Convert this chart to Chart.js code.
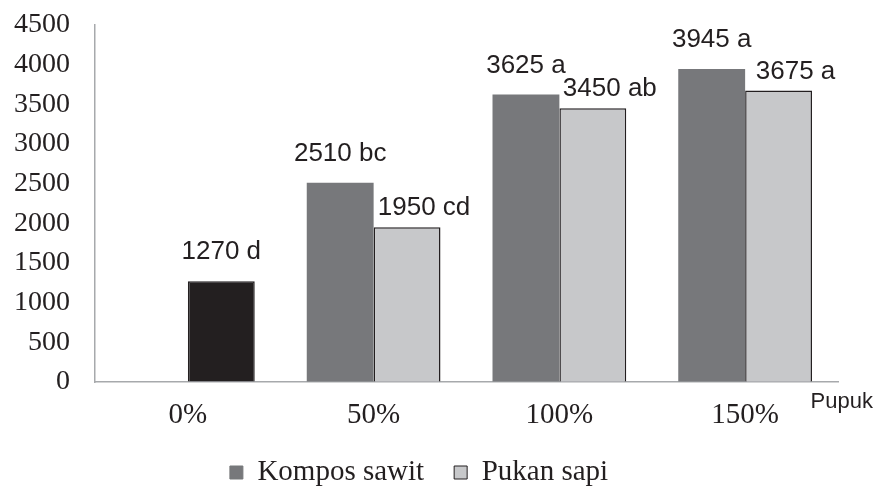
<!DOCTYPE html>
<html>
    <head>
        <meta charset="UTF-8"/>
        <title>Pupuk</title>
        <script src="https://cdn.jsdelivr.net/npm/chart.js@4.4.1/dist/chart.umd.min.js"></script>
        <style>
            body{margin:0;background:#fff;}
            #wrap{width:889px;height:491px;}
        </style>
    </head>
    <body>
        <div id="wrap"><canvas id="chart"></canvas></div>
        <script>
            const categories=['0%','50%','100%','150%'];
            const kompos=[null,2510,3625,3945];
            const pukan=[1270,1950,3450,3675];
            const komposLabels=[null,'2510 bc','3625 a','3945 a'];
            const pukanLabels=['1270 d','1950 cd','3450 ab','3675 a'];
            const yTicks=[0,500,1000,1500,2000,2500,3000,3500,4000,4500];

            const ink='#231f20';
            const serif='"Liberation Serif", "Times New Roman", serif';
            const sans='"Liberation Sans", Arial, sans-serif';

            // value labels above bars + the "Pupuk" axis name
            const barText={
                id:'barText',
                afterDatasetsDraw(chart){
                    const ctx=chart.ctx;
                    ctx.save();
                    ctx.fillStyle=ink;
                    ctx.font='26px '+sans;
                    ctx.textAlign='center';
                    ctx.textBaseline='bottom';
                    chart.getDatasetMeta(0).data.forEach((bar,i)=>{
                        if(!komposLabels[i]) return;
                        ctx.fillText(komposLabels[i],bar.x,bar.y-16);
                    });
                    chart.getDatasetMeta(1).data.forEach((bar,i)=>{
                        const dx=i===0?0:17;
                        const dy=i===0?16:6;
                        ctx.fillText(pukanLabels[i],bar.x+dx,bar.y-dy);
                    });
                    ctx.font='22px '+sans;
                    ctx.textAlign='right';
                    ctx.textBaseline='alphabetic';
                    ctx.fillText('Pupuk',chart.width-16,chart.chartArea.bottom+26);
                    ctx.restore();
                }
            };

            const ctx=document.getElementById('chart').getContext('2d');
            new Chart(ctx,{
                type:'bar',
                data:{
                    labels:categories,
                    datasets:[{
                        label:'Kompos sawit',
                        data:kompos,
                        backgroundColor:'#77787b',
                        borderWidth:0
                    },{
                        label:'Pukan sapi',
                        data:pukan,
                        backgroundColor:pukan.map((v,i)=>i===0?ink:'#c7c8ca'),
                        borderColor:ink,
                        borderWidth:1.5
                    }]
                },
                options:{
                    responsive:true,
                    maintainAspectRatio:false,
                    animation:false,
                    categoryPercentage:0.72,
                    barPercentage:1.0,
                    layout:{padding:{top:25,right:51,left:0,bottom:0}},
                    plugins:{
                        tooltip:{enabled:false},
                        legend:{
                            position:'bottom',
                            maxHeight:63,
                            labels:{
                                color:ink,
                                font:{family:serif,size:29},
                                boxWidth:13,
                                boxHeight:13,
                                padding:30,
                                generateLabels(chart){
                                    return chart.data.datasets.map((ds,i)=>({
                                        text:ds.label,
                                        fillStyle:i===0?'#77787b':'#c7c8ca',
                                        strokeStyle:i===0?'#77787b':ink,
                                        lineWidth:1,
                                        datasetIndex:i,
                                        fontColor:ink
                                    }));
                                }
                            }
                        }
                    },
                    scales:{
                        x:{
                            grid:{display:false,drawTicks:false},
                            border:{color:'#a7a9ac',width:1.5},
                            ticks:{color:ink,font:{family:serif,size:29},padding:16},
                            afterFit(scale){scale.height=46;}
                        },
                        y:{
                            min:0,max:4500,
                            // invisible tick marks just push the labels away from the axis
                            grid:{display:true,drawOnChartArea:false,color:'transparent',tickColor:'transparent',drawTicks:true,tickLength:25},
                            border:{color:'#a7a9ac',width:1.5},
                            afterBuildTicks(scale){scale.ticks=yTicks.map(v=>({value:v}));},
                            ticks:{color:ink,font:{family:serif,size:28},padding:0,
                                callback:function(value){return String(value);}},
                            afterFit(scale){scale.width=95;}
                        }
                    }
                },
                plugins:[barText]
            });
        </script>
    </body>
</html>
